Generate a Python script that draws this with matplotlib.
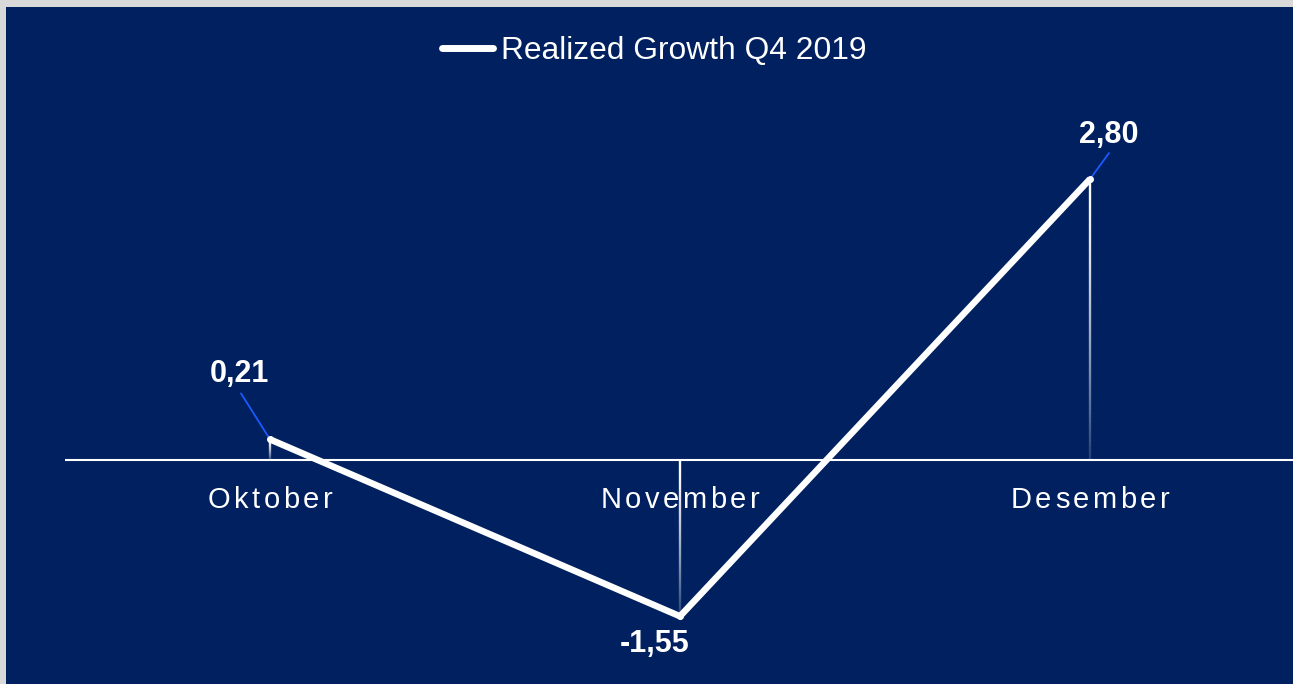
import matplotlib
matplotlib.use('Agg')
import matplotlib.pyplot as plt
from matplotlib.patches import Rectangle
from matplotlib.lines import Line2D
from matplotlib.collections import LineCollection
from matplotlib.font_manager import FontProperties, findfont, get_font
from matplotlib.transforms import ScaledTranslation
import numpy as np

# ---- data ----
months = ['Oktober', 'November', 'Desember']
growth = [0.21, -1.55, 2.80]
value_labels = ['0,21', '-1,55', '2,80']
series_name = 'Realized Growth Q4 2019'

# ---- style ----
W, H, DPI = 1293, 684, 100
NAVY = '#00205f'
BLUE = '#1a5aff'
FONT = 'Liberation Sans'
label_offsets = [(-31, 57), (-25, -36), (19, 36)]      # pixels from point
leader_starts = [(-29, 46), None, (19, 26)]            # pixels from point

fig = plt.figure(figsize=(W / DPI, H / DPI), dpi=DPI, facecolor='#d9d9d9')
fig.patches.append(Rectangle((6 / W, 0), 1 - 6 / W, (H - 7) / H,
                             transform=fig.transFigure, facecolor=NAVY,
                             edgecolor='none', zorder=-10))
ax = fig.add_axes([65 / W, 0, 1230 / W, 584 / H])
ax.set_facecolor('none')
for s in ax.spines.values():
    s.set_visible(False)
ax.set_xlim(-0.5, 2.5)
ax.set_ylim(-2.224, 3.587)
ax.set_xticks([])
ax.set_yticks([])
x = np.arange(len(months))

ax.axhline(0, color='white', lw=1.5, zorder=2)

# gradient drop lines (white at top, fading downward)
for xi, v in zip(x, growth):
    top, bot = max(v, 0), min(v, 0)
    n = 60
    ys = np.linspace(top, bot, n + 1)
    segs = [[(xi, ys[i]), (xi, ys[i + 1])] for i in range(n)]
    t = np.linspace(0, 1, n)
    alphas = 1.0 - 0.85 * t ** 1.4
    cols = [(1, 1, 1, a) for a in alphas]
    ax.add_collection(LineCollection(segs, colors=cols, linewidths=1.7,
                                     zorder=3, capstyle='butt'))

ax.plot(x, growth, color='white', lw=4.7, solid_joinstyle='miter',
        solid_capstyle='butt', marker='o', ms=4, mfc='white', mec='white',
        zorder=5, label=series_name)

# value labels + leader lines
bold = FontProperties(family=FONT, size=22, weight='bold')
for xi, v, lab, off, ls in zip(x, growth, value_labels, label_offsets, leader_starts):
    ax.annotate(lab, xy=(xi, v), xytext=off, textcoords='offset pixels',
                ha='center', va='baseline', color='white', fontproperties=bold,
                zorder=6)
    if ls is not None:
        ax.annotate('', xy=(xi, v), xytext=ls, textcoords='offset pixels',
                    arrowprops=dict(arrowstyle='-', color=BLUE, lw=1.3,
                                    shrinkA=0, shrinkB=0), zorder=4)


# category labels with letter spacing
def spaced_text(xc, s, size_pt, spacing_px, dy_px):
    prop = FontProperties(family=FONT, size=size_pt)
    font = get_font(findfont(prop))
    font.set_size(size_pt, DPI)
    advs = []
    for c in s:
        g = font.load_char(ord(c))
        advs.append(g.linearHoriAdvance / 65536)
    total = sum(advs) + spacing_px * (len(s) - 1)
    pos = -total / 2
    for c, a in zip(s, advs):
        tr = ax.transData + ScaledTranslation(pos / DPI, dy_px / DPI, fig.dpi_scale_trans)
        ax.text(xc, 0, c, transform=tr, fontproperties=prop, ha='left',
                va='baseline', color='white', zorder=6)
        pos += a + spacing_px


for xi, m in zip(x, months):
    spaced_text(xi, m, 21, 3.5, -48)

# legend
handle = Line2D([], [], color='white', lw=5, solid_capstyle='round')
fig.legend([handle], [series_name], loc='center',
           bbox_to_anchor=(654.5 / W, 1 - 51 / H), frameon=False,
           prop=FontProperties(family=FONT, size=22.9), labelcolor='white',
           handlelength=1.6, handletextpad=0.27, borderpad=0, borderaxespad=0)

fig.savefig('out.png', dpi=DPI, facecolor=fig.get_facecolor())
